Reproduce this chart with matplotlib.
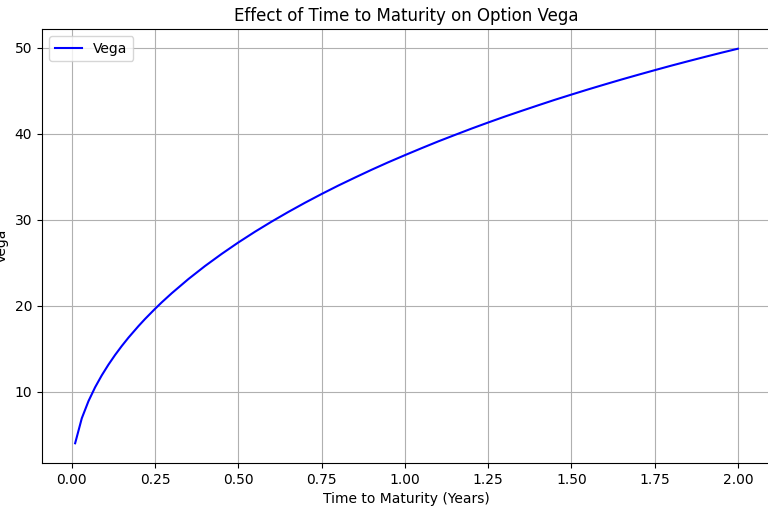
import numpy as np
import matplotlib
matplotlib.use('Agg')
import matplotlib.pyplot as plt

# time to maturity (years) and vega
T = [0.01, 0.03, 0.05, 0.07, 0.09, 0.11, 0.13, 0.15, 0.17, 0.20, 0.22, 0.25, 0.27,
     0.30, 0.35, 0.40, 0.45, 0.50, 0.55, 0.60, 0.65, 0.70, 0.75, 0.80, 0.85, 0.90,
     0.95, 1.00, 1.05, 1.10, 1.15, 1.20, 1.25, 1.30, 1.35, 1.40, 1.45, 1.50, 1.55,
     1.60, 1.65, 1.70, 1.75, 1.80, 1.85, 1.90, 1.95, 2.00]
vega = [3.99, 6.90, 8.89, 10.51, 11.90, 13.14, 14.27, 15.31, 16.28, 17.62, 18.46,
        19.64, 20.39, 21.45, 23.10, 24.62, 26.03, 27.36, 28.61, 29.79, 30.91, 31.98,
        33.00, 33.98, 34.91, 35.82, 36.69, 37.52, 38.33, 39.12, 39.87, 40.61, 41.32,
        42.01, 42.67, 43.32, 43.96, 44.57, 45.17, 45.75, 46.32, 46.87, 47.41, 47.94,
        48.45, 48.95, 49.44, 49.91]

fig = plt.figure(figsize=(7.68, 5.13), dpi=100)
# axes runs past the right edge of the picture, as in the reference
ax = fig.add_axes([42/768, 50/513, 729/768, 434/513])
ax.plot(T, vega, color='blue', label='Vega')
ax.set_title('Effect of Time to Maturity on Option Vega')
ax.set_xlabel('Time to Maturity (Years)')
ax.set_ylabel('Vega')
ax.set_xticks([0, 0.25, 0.5, 0.75, 1.0, 1.25, 1.5, 1.75, 2.0])
ax.grid(True)
ax.legend(loc='upper left')
fig.savefig('out.png', dpi=100)
